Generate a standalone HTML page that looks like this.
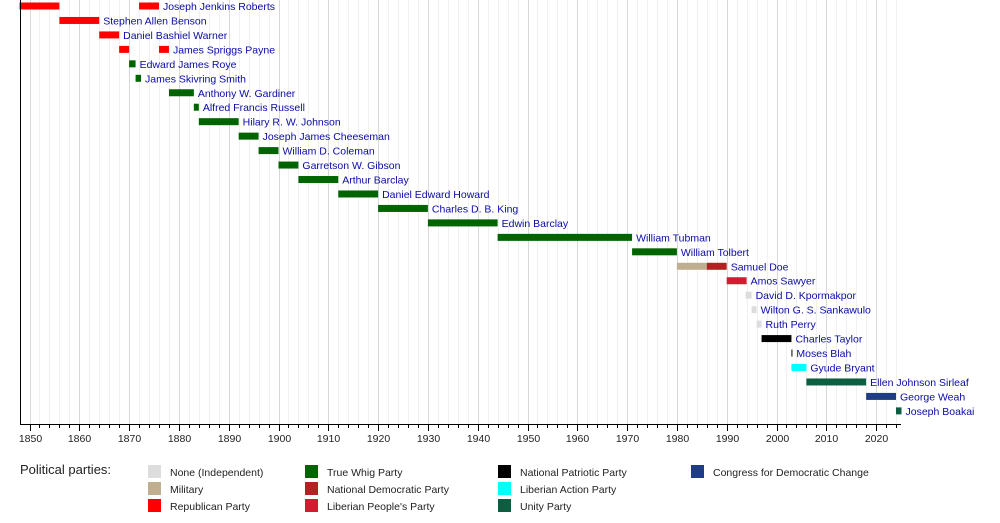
<!DOCTYPE html>
<html><head><meta charset="utf-8"><style>
body{margin:0;background:#fff;}
svg{display:block;font-family:"Liberation Sans",sans-serif;}
.l{font-size:10.5px;fill:#0a0aa8;}
.t{font-size:10.5px;fill:#222;}
.g{font-size:10.5px;fill:#222;}
</style></head><body>
<svg width="1000" height="523" viewBox="0 0 1000 523" xmlns="http://www.w3.org/2000/svg">
<g id="grid"></g>
<g id="bars"></g>
<line x1="20.5" y1="0" x2="20.5" y2="424.5" stroke="#000" stroke-width="1"/>
<line x1="20" y1="424.5" x2="901" y2="424.5" stroke="#000" stroke-width="1"/>
<g id="ticks"></g>
<text x="20" y="474" style="font-size:13px;fill:#222">Political parties:</text>
<rect x="148" y="465" width="13" height="13" fill="#dddddd"/><text x="170" y="476" class="g">None (Independent)</text>
<rect x="148" y="482" width="13" height="13" fill="#bfae90"/><text x="170" y="493" class="g">Military</text>
<rect x="148" y="499" width="13" height="13" fill="#ff0000"/><text x="170" y="510" class="g">Republican Party</text>
<rect x="305" y="465" width="13" height="13" fill="#006400"/><text x="327" y="476" class="g">True Whig Party</text>
<rect x="305" y="482" width="13" height="13" fill="#b22222"/><text x="327" y="493" class="g">National Democratic Party</text>
<rect x="305" y="499" width="13" height="13" fill="#d41c30"/><text x="327" y="510" class="g">Liberian People's Party</text>
<rect x="498" y="465" width="13" height="13" fill="#000000"/><text x="520" y="476" class="g">National Patriotic Party</text>
<rect x="498" y="482" width="13" height="13" fill="#00ffff"/><text x="520" y="493" class="g">Liberian Action Party</text>
<rect x="498" y="499" width="13" height="13" fill="#0b5e40"/><text x="520" y="510" class="g">Unity Party</text>
<rect x="691" y="465" width="13" height="13" fill="#1f3d85"/><text x="713" y="476" class="g">Congress for Democratic Change</text>
</svg>
<script>
var ns="http://www.w3.org/2000/svg";
function X(y){return 29.5+(y-1850)*4.98;}
function el(p,n,a,t){var e=document.createElementNS(ns,n);for(var k in a)e.setAttribute(k,a[k]);if(t)e.textContent=t;document.getElementById(p).appendChild(e);}
for(var y=1850;y<=2024;y+=2){var x=Math.round(X(y))+0.5;el("grid","line",{x1:x,y1:0,x2:x,y2:424,stroke:(y%10==0)?"#d8d8d8":"#f0f0f0","stroke-width":1});}
for(var y=1850;y<=2024;y+=2){var x=Math.round(X(y))+0.5;var m=y%10==0;el("ticks","line",{x1:x,y1:424.5,x2:x,y2:m?431:428,stroke:"#000"});if(m)el("ticks","text",{x:x,y:442,"text-anchor":"middle","class":"t"},String(y));}
var R="#ff0000",W="#006400",N="#dddddd",M="#bfae90",D="#b22222",L="#d41c30",P="#000",A="#00ffff",U="#0b5e40",C="#1f3d85";
var rows=[
["Joseph Jenkins Roberts",[[1848,1856,R],[1872,1876,R]]],
["Stephen Allen Benson",[[1856,1864,R]]],
["Daniel Bashiel Warner",[[1864,1868,R]]],
["James Spriggs Payne",[[1868,1870,R],[1876,1878,R]]],
["Edward James Roye",[[1870,1871.3,W]]],
["James Skivring Smith",[[1871.3,1872.4,W]]],
["Anthony W. Gardiner",[[1878,1883,W]]],
["Alfred Francis Russell",[[1883,1884,W]]],
["Hilary R. W. Johnson",[[1884,1892,W]]],
["Joseph James Cheeseman",[[1892,1896,W]]],
["William D. Coleman",[[1896,1900,W]]],
["Garretson W. Gibson",[[1900,1904,W]]],
["Arthur Barclay",[[1904,1912,W]]],
["Daniel Edward Howard",[[1912,1920,W]]],
["Charles D. B. King",[[1920,1930,W]]],
["Edwin Barclay",[[1930,1944,W]]],
["William Tubman",[[1944,1971,W]]],
["William Tolbert",[[1971,1980,W]]],
["Samuel Doe",[[1980,1986,M],[1986,1990,D]]],
["Amos Sawyer",[[1990,1994,L]]],
["David D. Kpormakpor",[[1993.8,1995,N]]],
["Wilton G. S. Sankawulo",[[1995,1996,N]]],
["Ruth Perry",[[1996,1997,N]]],
["Charles Taylor",[[1997,2003,P]]],
["Moses Blah",[[2003,2003.2,P]]],
["Gyude Bryant",[[2003,2006,A]]],
["Ellen Johnson Sirleaf",[[2006,2018,U]]],
["George Weah",[[2018,2024,C]]],
["Joseph Boakai",[[2024,2025.1,U]]]];
rows.forEach(function(r,i){var cy=6+14.46*i,end=0;r[1].forEach(function(b){var x1=X(b[0]),x2=X(b[1]);el("bars","rect",{x:x1,y:cy-3.5,width:Math.max(1,x2-x1),height:7,fill:b[2]});end=Math.max(end,x2);});el("bars","text",{x:end+4,y:cy+4,"class":"l"},r[0]);});
</script>
</body></html>
